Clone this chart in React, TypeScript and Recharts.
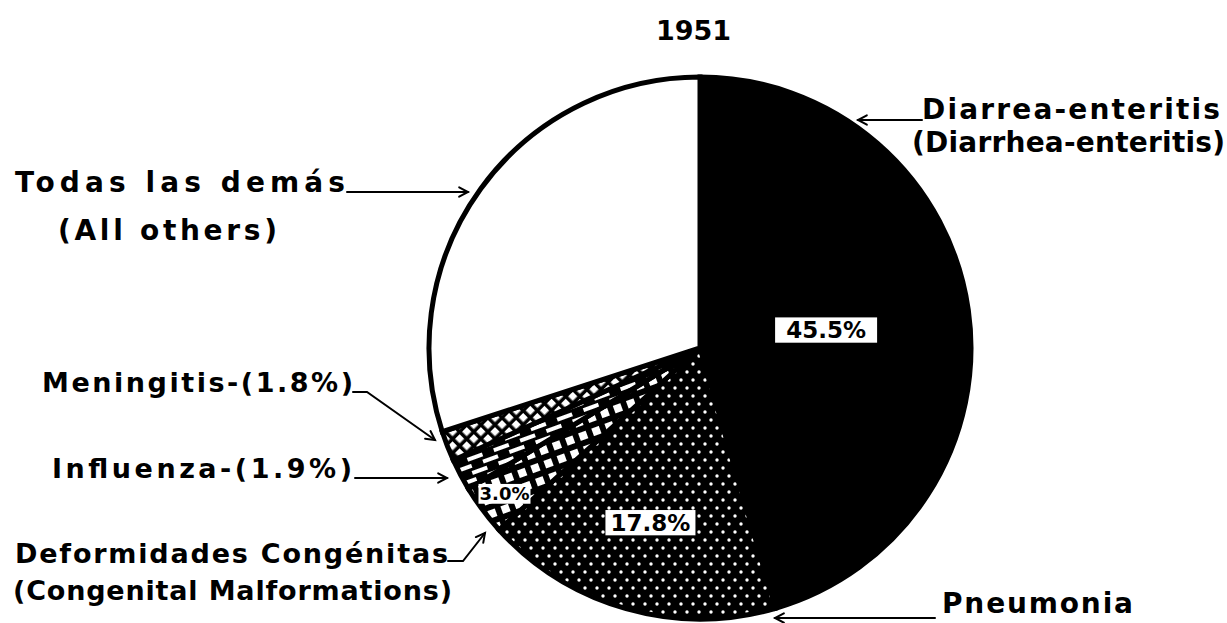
import { Cell, Pie, PieChart } from "recharts";

const W = 1227;
const H = 623;

const causes = [
  "Diarrea-enteritis",
  "Pneumonia",
  "Deformidades Congénitas",
  "Influenza",
  "Meningitis",
  "Todas las demás",
];
const shares = [45.5, 17.8, 3.0, 1.9, 1.8, 30.0];
const insideLabels = ["45.5%", "17.8%", "3.0%", "", "", ""];
const fills = ["#000", "url(#dots)", "url(#squares)", "url(#dashes)", "url(#hatch)", "#fff"];

// label placement inside the slices (fraction of radius, font size, white box width)
const LABEL_R = [0.47, 0.67, 0.9];
const LABEL_FS = [23, 23, 18];
const LABEL_BOX = [102, 90, 52];

const data = causes.map((c, i) => ({ name: c, value: shares[i] }));

const FONT = "'DejaVu Sans', sans-serif";
const RAD = Math.PI / 180;

function renderLabel(props: any) {
  const { cx, cy, midAngle, outerRadius, index } = props;
  const text = insideLabels[index];
  if (!text) return null;
  const r = outerRadius * LABEL_R[index];
  const x = cx + r * Math.cos(-midAngle * RAD);
  const y = cy + r * Math.sin(-midAngle * RAD);
  const fs = LABEL_FS[index];
  const bw = LABEL_BOX[index];
  return (
    <g key={`lbl-${index}`}>
      <rect x={x - bw / 2} y={y - fs * 0.55} width={bw} height={fs * 1.1} fill="#fff" />
      <text
        x={x}
        y={y}
        textAnchor="middle"
        dominantBaseline="central"
        fontFamily={FONT}
        fontWeight={600}
        fontSize={fs}
        fill="#000"
      >
        {text}
      </text>
    </g>
  );
}

type Pt = [number, number];

function Leader({ pts }: { pts: Pt[] }) {
  const [x1, y1] = pts[pts.length - 2];
  const [x2, y2] = pts[pts.length - 1];
  const a = Math.atan2(y2 - y1, x2 - x1);
  const len = 10;
  const spread = 28 * RAD;
  const h1: Pt = [x2 - len * Math.cos(a - spread), y2 - len * Math.sin(a - spread)];
  const h2: Pt = [x2 - len * Math.cos(a + spread), y2 - len * Math.sin(a + spread)];
  return (
    <g stroke="#000" strokeWidth={2} fill="none" strokeLinecap="round">
      <polyline points={pts.map((p) => p.join(",")).join(" ")} />
      <polyline points={`${h1.join(",")} ${x2},${y2} ${h2.join(",")}`} />
    </g>
  );
}

function Label({ x, y, w, size, children }: { x: number; y: number; w?: number; size: number; children: string }) {
  return (
    <text
      x={x}
      y={y}
      fontFamily={FONT}
      fontWeight="bold"
      fontSize={size}
      fill="#000"
      textLength={w}
      lengthAdjust={w ? "spacing" : undefined}
    >
      {children}
    </text>
  );
}

export default function App() {
  return (
    <div style={{ position: "absolute", left: 0, top: 0, width: W, height: H, background: "#fff" }}>
      <svg width={0} height={0} style={{ position: "absolute" }}>
        <defs>
          <pattern id="dots" width={12} height={16} patternUnits="userSpaceOnUse">
            <rect width={12} height={16} fill="#000" />
            <circle cx={3} cy={4} r={1.7} fill="#fff" />
            <circle cx={9} cy={12} r={1.7} fill="#fff" />
          </pattern>
          <pattern id="squares" width={14} height={14} patternUnits="userSpaceOnUse" patternTransform="rotate(-20)">
            <rect width={14} height={14} fill="#000" />
            <rect x={3} y={3} width={8} height={8} fill="#fff" />
          </pattern>
          <pattern id="dashes" width={28} height={14} patternUnits="userSpaceOnUse" patternTransform="rotate(-20)">
            <rect width={28} height={14} fill="#000" />
            <rect x={2} y={2} width={16} height={4} fill="#fff" />
            <rect x={16} y={9} width={16} height={4} fill="#fff" />
            <rect x={-12} y={9} width={16} height={4} fill="#fff" />
          </pattern>
          <pattern id="hatch" width={10} height={10} patternUnits="userSpaceOnUse" patternTransform="rotate(45)">
            <rect width={10} height={10} fill="#000" />
            <rect x={2} y={2} width={6.5} height={6.5} fill="#fff" />
          </pattern>
        </defs>
      </svg>

      <PieChart width={W} height={H} margin={{ top: 0, right: 0, bottom: 0, left: 0 }}>
        <Pie
          data={data}
          dataKey="value"
          nameKey="name"
          cx={700}
          cy={348}
          outerRadius={271}
          startAngle={90}
          endAngle={-270}
          stroke="#000"
          strokeWidth={5}
          label={renderLabel}
          labelLine={false}
          isAnimationActive={false}
        >
          {data.map((d, i) => (
            <Cell key={d.name} fill={fills[i]} />
          ))}
        </Pie>
      </PieChart>

      <svg width={W} height={H} style={{ position: "absolute", left: 0, top: 0, pointerEvents: "none" }}>
        <Label x={656} y={40} size={27}>1951</Label>

        <Label x={922} y={119} w={298} size={28}>Diarrea-enteritis</Label>
        <Label x={912} y={152} w={313} size={28}>(Diarrhea-enteritis)</Label>
        <Leader pts={[[922, 120], [858, 120]]} />

        <Label x={15} y={192} w={330} size={28}>Todas las demás</Label>
        <Label x={58} y={240} w={219} size={28}>(All others)</Label>
        <Leader pts={[[347, 192], [468, 192]]} />

        <Label x={42} y={392} w={311} size={27}>Meningitis-(1.8%)</Label>
        <Leader pts={[[353, 392], [367, 392], [435, 440]]} />

        <Label x={52} y={478} w={300} size={27}>Influenza-(1.9%)</Label>
        <Leader pts={[[355, 478], [447, 478]]} />

        <Label x={15} y={563} w={433} size={27}>Deformidades Congénitas</Label>
        <Label x={13} y={600} w={439} size={27}>(Congenital Malformations)</Label>
        <Leader pts={[[448, 561], [463, 561], [485, 533]]} />

        <Label x={942} y={613} w={191} size={28}>Pneumonia</Label>
        <Leader pts={[[935, 618], [775, 618]]} />
      </svg>
    </div>
  );
}
